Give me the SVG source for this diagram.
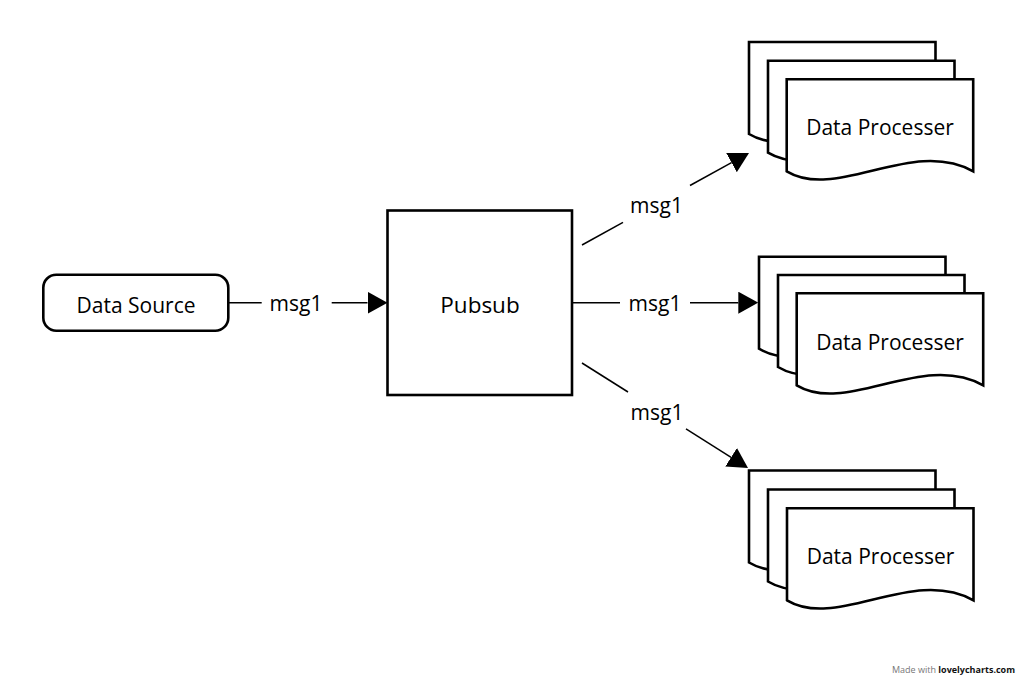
<svg xmlns="http://www.w3.org/2000/svg" xmlns:xlink="http://www.w3.org/1999/xlink" width="1024" height="680" viewBox="0 0 1024 680">
<style>
.shape{fill:#fff;stroke:#000;stroke-width:2.6;stroke-linejoin:miter}
.lbl{font-family:"Open Sans","Noto Sans","Liberation Sans",sans-serif;font-size:21px;fill:#000;text-anchor:middle}
.conn{stroke:#000;stroke-width:1.5;fill:none}
.foot{font-family:"Open Sans","Liberation Sans",sans-serif;font-size:9px;text-anchor:end}
</style>
<defs>
<marker id="ah" markerUnits="userSpaceOnUse" markerWidth="20" markerHeight="22" viewBox="0 0 20 22" refX="0" refY="11" orient="auto">
<path d="M0,0 L20,11 L0,22 Z" fill="#000"/>
</marker>
<path id="doc" d="M0,0 H186.5 V92 C125,58 50,122 0,92 Z"/>
</defs>
<rect width="1024" height="680" fill="#fff"/>
<g id="data-source">
<rect class="shape" x="43.3" y="274.7" width="185" height="56" rx="13"/>
<text class="lbl" x="136" y="313">Data Source</text>
</g>
<g id="pubsub">
<rect class="shape" x="387.5" y="210.5" width="184.5" height="184.5"/>
<text class="lbl" x="480" y="313" style="font-size:22.5px">Pubsub</text>
</g>
<g id="processer-top">
<use xlink:href="#doc" class="shape" x="749" y="42"/>
<use xlink:href="#doc" class="shape" x="768" y="60.7"/>
<use xlink:href="#doc" class="shape" x="786.7" y="79.3"/>
<text class="lbl" x="880" y="135">Data Processer</text>
</g>
<g id="processer-middle">
<use xlink:href="#doc" class="shape" x="759" y="256.7"/>
<use xlink:href="#doc" class="shape" x="778" y="275"/>
<use xlink:href="#doc" class="shape" x="796.7" y="293.3"/>
<text class="lbl" x="890" y="349.5">Data Processer</text>
</g>
<g id="processer-bottom">
<use xlink:href="#doc" class="shape" x="749" y="470.5"/>
<use xlink:href="#doc" class="shape" x="768" y="489.5"/>
<use xlink:href="#doc" class="shape" x="787" y="508.3"/>
<text class="lbl" x="880.5" y="563.5">Data Processer</text>
</g>
<g id="connectors">
<line class="conn" x1="229" y1="302.7" x2="261.7" y2="302.7"/>
<line class="conn" x1="331.7" y1="302.7" x2="367.5" y2="302.7" marker-end="url(#ah)"/>
<text class="lbl" x="296" y="310.5">msg1</text>
<line class="conn" x1="573" y1="302.7" x2="620" y2="302.7"/>
<line class="conn" x1="690" y1="302.7" x2="738.3" y2="302.7" marker-end="url(#ah)"/>
<text class="lbl" x="655" y="311">msg1</text>
<line class="conn" x1="582" y1="245" x2="623" y2="222.4"/>
<line class="conn" x1="690" y1="185.5" x2="731.5" y2="162.6" marker-end="url(#ah)"/>
<text class="lbl" x="656.5" y="213">msg1</text>
<line class="conn" x1="582" y1="363" x2="628" y2="392"/>
<line class="conn" x1="686" y1="428.8" x2="731.1" y2="457.3" marker-end="url(#ah)"/>
<text class="lbl" x="657" y="420">msg1</text>
</g>
<text class="foot" x="1015" y="673"><tspan fill="#777">Made with </tspan><tspan fill="#111" font-weight="bold">lovelycharts.com</tspan></text>
</svg>
